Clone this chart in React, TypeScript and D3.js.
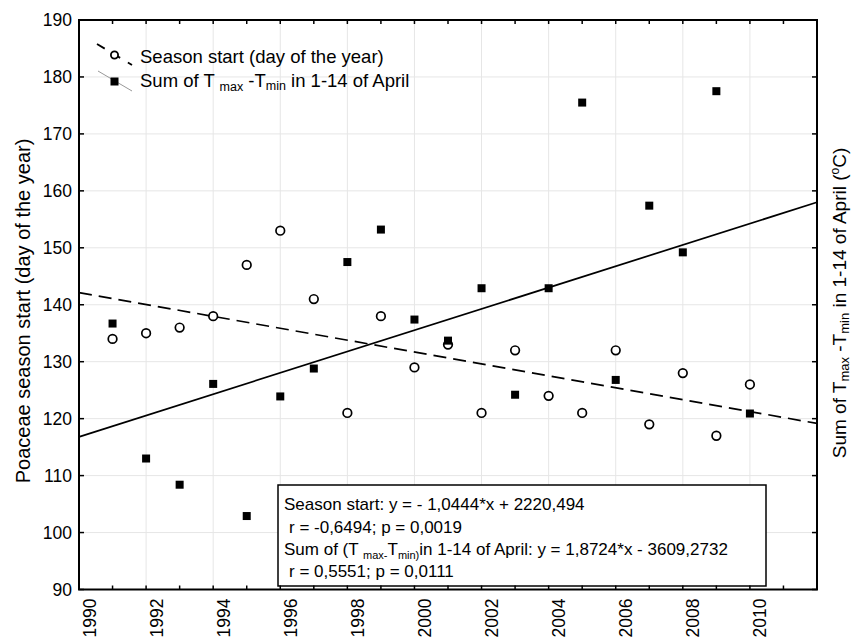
import React from "react";
import * as d3 from "d3";

// years of observation
const years = [
  1991, 1992, 1993, 1994, 1995, 1996, 1997, 1998, 1999, 2000,
  2001, 2002, 2003, 2004, 2005, 2006, 2007, 2008, 2009, 2010,
];

// Poaceae season start (day of the year)
const seasonStart = [
  134, 135, 136, 138, 147, 153, 141, 121, 138, 129,
  133, 121, 132, 124, 121, 132, 119, 128, 117, 126,
];

// Sum of Tmax - Tmin in 1-14 of April (drawn on the same scale)
const tempSum = [
  136.7, 113.0, 108.4, 126.1, 102.9, 123.9, 128.8, 147.5, 153.2, 137.4,
  133.7, 142.9, 124.2, 142.9, 175.5, 126.8, 157.4, 149.2, 177.5, 120.9,
];

// regression coefficients, as given in the annotation
const seasonFit = { slope: -1.0444, intercept: 2220.494 };
const tempFit = { slope: 1.8724, intercept: -3609.2732 };

const yTicks = [90, 100, 110, 120, 130, 140, 150, 160, 170, 180, 190];
const xLabelTicks = [1990, 1992, 1994, 1996, 1998, 2000, 2002, 2004, 2006, 2008, 2010];
const xMinorTicks = d3.range(1991, 2012);

const W = 857;
const H = 640;
const plot = { left: 79, right: 817, top: 20, bottom: 589.5 };
const FONT = "Arial, 'Liberation Sans', sans-serif";

const App: React.FC = () => {
  const x = d3.scaleLinear().domain([1990, 2012]).range([plot.left, plot.right]);
  const y = d3.scaleLinear().domain([90, 190]).range([plot.bottom, plot.top]);

  const fitLine = (fit: { slope: number; intercept: number }) =>
    d3
      .line<number>()
      .x(d => x(d))
      .y(d => y(fit.slope * d + fit.intercept))([1990, 2012]) as string;

  return (
    <svg
      width={W}
      height={H}
      style={{ position: "absolute", left: 0, top: 0, background: "#fff" }}
      fontFamily={FONT}
    >
      <rect x={0} y={0} width={W} height={H} fill="#fff" />

      {/* grid */}
      <g stroke="#e6e6e6" strokeWidth={1}>
        {yTicks.map(t => (
          <line key={"gy" + t} x1={plot.left} x2={plot.right} y1={y(t)} y2={y(t)} />
        ))}
        {xLabelTicks.map(t => (
          <line key={"gx" + t} x1={x(t)} x2={x(t)} y1={plot.top} y2={plot.bottom} />
        ))}
      </g>

      {/* regression lines */}
      <path d={fitLine(seasonFit)} fill="none" stroke="#000" strokeWidth={1.7} strokeDasharray="13,7" />
      <path d={fitLine(tempFit)} fill="none" stroke="#000" strokeWidth={1.7} />

      {/* season start: open circles */}
      {years.map((yr, i) => (
        <circle key={"c" + yr} cx={x(yr)} cy={y(seasonStart[i])} r={4.3} fill="#fff" stroke="#000" strokeWidth={1.7} />
      ))}

      {/* temperature sum: filled squares */}
      {years.map((yr, i) => (
        <rect key={"s" + yr} x={x(yr) - 4} y={y(tempSum[i]) - 4} width={8} height={8} fill="#000" />
      ))}

      {/* annotation box */}
      <g>
        <rect x={278} y={485} width={488} height={101} fill="#fff" stroke="#000" strokeWidth={1.5} />
        <g fontSize={17} fill="#000">
          <text x={284} y={510}>Season start: y = - 1,0444*x + 2220,494</text>
          <text x={289} y={533}>r = -0,6494; p = 0,0019</text>
          <text x={284} y={555}>
            Sum of (T <tspan fontSize={11} dy={4}>max-</tspan>
            <tspan dy={-4}>T</tspan>
            <tspan fontSize={11} dy={4}>min)</tspan>
            <tspan dy={-4}>in 1-14 of April: y = 1,8724*x - 3609,2732</tspan>
          </text>
          <text x={289} y={577}>r = 0,5551; p = 0,0111</text>
        </g>
      </g>

      {/* frame */}
      <rect
        x={plot.left}
        y={plot.top}
        width={plot.right - plot.left}
        height={plot.bottom - plot.top}
        fill="none"
        stroke="#000"
        strokeWidth={2}
      />

      {/* ticks */}
      <g stroke="#000" strokeWidth={1.5}>
        {xMinorTicks.map(t => (
          <g key={"tx" + t}>
            <line x1={x(t)} x2={x(t)} y1={plot.bottom} y2={plot.bottom - 4} />
            <line x1={x(t)} x2={x(t)} y1={plot.top} y2={plot.top + 4} />
          </g>
        ))}
        {yTicks.map(t => (
          <g key={"ty" + t}>
            <line x1={plot.left} x2={plot.left + 5} y1={y(t)} y2={y(t)} />
            <line x1={plot.right} x2={plot.right - 5} y1={y(t)} y2={y(t)} />
          </g>
        ))}
      </g>

      {/* y tick labels */}
      <g fontSize={17.5} fill="#000" textAnchor="end">
        {yTicks.map(t => (
          <text key={"ly" + t} x={plot.left - 7} y={y(t)} dy="0.36em">
            {t}
          </text>
        ))}
      </g>

      {/* x tick labels */}
      <g fontSize={17.5} fill="#000" textAnchor="end">
        {xLabelTicks.map(t => (
          <text key={"lx" + t} transform={`translate(${x(t) + 16.5},${plot.bottom + 9}) rotate(-90)`}>
            {t}
          </text>
        ))}
      </g>

      {/* axis titles */}
      <text
        transform={`translate(30,311) rotate(-90)`}
        textAnchor="middle"
        fontSize={20}
        fill="#000"
      >
        Poaceae season start (day of the year)
      </text>
      <text transform={`translate(846,303) rotate(-90)`} textAnchor="middle" fontSize={19} fill="#000">
        Sum of T<tspan fontSize={13} dy={3}>max</tspan>
        <tspan dy={-3}>{"  -T"}</tspan>
        <tspan fontSize={13} dy={3}>min</tspan>
        <tspan dy={-3}> in 1-14 of April (</tspan>
        <tspan fontSize={12} dy={-7}>o</tspan>
        <tspan dy={7}>C)</tspan>
      </text>

      {/* legend */}
      <g>
        <line x1={97} y1={44} x2={132} y2={65} stroke="#000" strokeWidth={1.8} strokeDasharray="9,9" />
        <circle cx={114.5} cy={55} r={3.6} fill="#fff" stroke="#000" strokeWidth={1.8} />
        <line x1={98} y1={71} x2={132} y2={91} stroke="#999" strokeWidth={1} />
        <rect x={110.5} y={77.5} width={8} height={8} fill="#000" />
        <g fontSize={18.5} fill="#000">
          <text x={140} y={63}>Season start (day of the year)</text>
          <text x={140} y={87}>
            Sum of T <tspan fontSize={12.5} dy={4}>max</tspan>
            <tspan dy={-4}> -T</tspan>
            <tspan fontSize={12.5} dy={3}>min</tspan>
            <tspan dy={-3}> in 1-14 of April</tspan>
          </text>
        </g>
      </g>
    </svg>
  );
};

export default App;
